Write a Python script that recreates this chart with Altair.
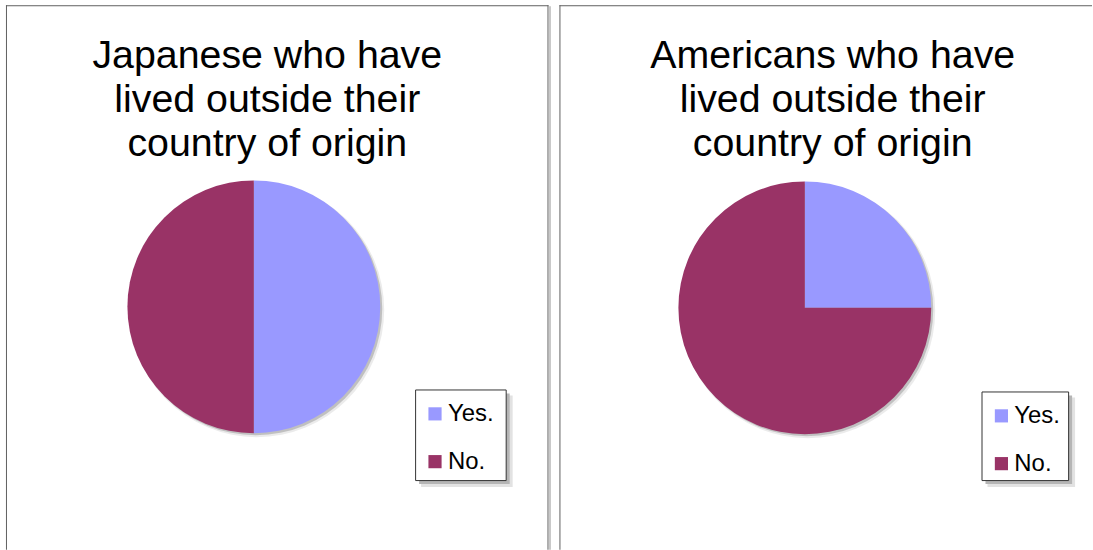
import altair as alt
import pandas as pd

categories = ["Yes.", "No."]
japanese_values = [50, 50]
american_values = [25, 75]
titles = [
    "Japanese who have\nlived outside their\ncountry of origin",
    "Americans who have\nlived outside their\ncountry of origin",
]
colors = ["#9999FF", "#993366"]

FONT = "Liberation Sans"
R = 127


def one(v):
    return alt.Chart(pd.DataFrame({"k": [v]}))


def panel(values, title, w, h, cx, cy, tx, ty, lx, ly, lw, lh, right_border):
    df = pd.DataFrame({"answer": categories, "value": values,
                       "order": list(range(len(categories)))})
    base = alt.Chart(df)

    pie_shadow2 = base.transform_aggregate(total="sum(value)").mark_arc(
        radius=R + 1, color="#000000", opacity=0.08
    ).encode(theta=alt.Theta("total:Q"), x=alt.value(cx + 3), y=alt.value(cy + 3))
    pie_shadow = base.transform_aggregate(total="sum(value)").mark_arc(
        radius=R, color="#000000", opacity=0.18
    ).encode(theta=alt.Theta("total:Q"), x=alt.value(cx + 2), y=alt.value(cy + 2))

    pie = base.mark_arc(radius=R, strokeWidth=0).encode(
        theta=alt.Theta("value:Q", stack=True),
        order=alt.Order("order:Q"),
        x=alt.value(cx), y=alt.value(cy),
        color=alt.Color(
            "answer:N",
            scale=alt.Scale(domain=categories, range=colors),
            legend=alt.Legend(
                orient="none", legendX=lx - 1, legendY=ly + 3.5, title=None,
                symbolType="square", symbolSize=175, symbolStrokeWidth=0,
                labelFont=FONT, labelFontSize=24, labelColor="#000000",
                labelOffset=1, rowPadding=24, padding=9,
            ),
        ),
    )

    title_mark = one(title).mark_text(
        font=FONT, fontSize=39.5, lineHeight=44, lineBreak="\n",
        align="center", baseline="alphabetic", color="#000000",
    ).encode(text="k:N", x=alt.value(tx), y=alt.value(ty))

    sh1 = one(1).mark_rect(color="#e2e2e2").encode(
        x=alt.value(lx + 6), x2=alt.value(lx + lw + 7),
        y=alt.value(ly + 6), y2=alt.value(ly + lh + 7))
    sh2 = one(1).mark_rect(color="#b5b5b5").encode(
        x=alt.value(lx + 4), x2=alt.value(lx + lw + 4),
        y=alt.value(ly + 4), y2=alt.value(ly + lh + 4))
    box = one(1).mark_rect(color="#ffffff", stroke="#333333", strokeWidth=1).encode(
        x=alt.value(lx + 0.5), x2=alt.value(lx + lw + 0.5),
        y=alt.value(ly + 0.5), y2=alt.value(ly + lh + 0.5))

    top = one(0).mark_rule(color="#606060", strokeWidth=1).encode(
        x=alt.value(0), x2=alt.value(w), y=alt.value(0.5))
    left = one(0).mark_rule(color="#606060", strokeWidth=1).encode(
        x=alt.value(0.5), y=alt.value(0), y2=alt.value(h))
    layers = [top, left]
    if right_border:
        layers.append(one(0).mark_rule(color="#c8c8c8", strokeWidth=2).encode(
            x=alt.value(w + 1.5), y=alt.value(1), y2=alt.value(h)))
        layers.append(one(0).mark_rule(color="#606060", strokeWidth=1).encode(
            x=alt.value(w - 0.5), y=alt.value(0), y2=alt.value(h)))

    return alt.layer(*layers, sh1, sh2, box, pie_shadow2, pie_shadow, pie,
                     title_mark).properties(width=w, height=h)


p1 = panel(japanese_values, titles[0], 545, 547, 249, 303, 262.5, 63,
           411, 386, 91, 91, True)
p2 = panel(american_values, titles[1], 535, 547, 246.5, 304, 274.5, 63,
           424, 388, 87, 89, False)

chart = alt.hconcat(p1, p2, spacing=7).resolve_scale(color="independent").properties(
    padding={"left": 5, "top": 3, "right": 0, "bottom": 0},
    background="#ffffff",
).configure_view(stroke=None)

chart.save("out.html", embed_options={"renderer": "svg", "actions": False})
